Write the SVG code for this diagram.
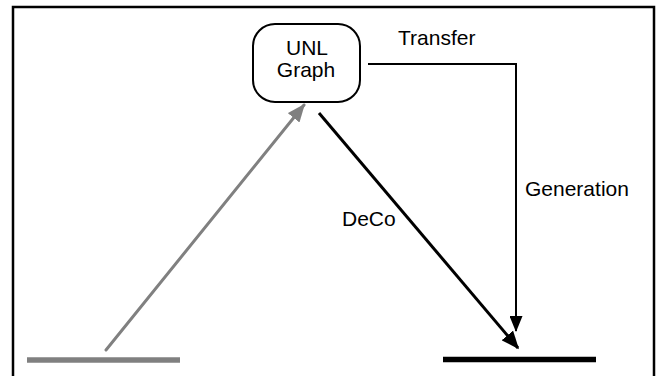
<svg xmlns="http://www.w3.org/2000/svg" width="656" height="376" viewBox="0 0 656 376">
<style>
text{font-family:"Liberation Sans",Arial,sans-serif;font-size:21px;fill:#000}
.blk{stroke:#000;fill:none}
.gry{stroke:#808080;fill:none}
</style>
<defs>
<marker id="ab" markerWidth="6" markerHeight="5" refX="5.5" refY="2.5" orient="auto" markerUnits="strokeWidth" viewBox="0 0 6 5"><path d="M0,0 L6,2.5 L0,5 z" fill="#000"/></marker>
<marker id="ab2" markerWidth="8" markerHeight="6.5" refX="7.5" refY="3.25" orient="auto" markerUnits="strokeWidth" viewBox="0 0 8 6.5"><path d="M0,0 L8,3.25 L0,6.5 z" fill="#000"/></marker>
<marker id="ag" markerWidth="6" markerHeight="5" refX="5.5" refY="2.5" orient="auto" markerUnits="strokeWidth" viewBox="0 0 6 5"><path d="M0,0 L6,2.5 L0,5 z" fill="#808080"/></marker>
</defs>
<path d="M13,376 V7 H654 V376" class="blk" stroke-width="2.5"/>
<g id="base-left"><line x1="27" y1="360" x2="180" y2="360" class="gry" stroke-width="5.5"/></g>
<g id="base-right"><line x1="443" y1="359.5" x2="596" y2="359.5" class="blk" stroke-width="5.5"/></g>
<g id="unl-graph">
<rect x="253" y="24" width="107" height="78" rx="22" ry="22" fill="#fff" stroke="#000" stroke-width="2"/>
<text x="307" y="55" text-anchor="middle">UNL</text>
<text x="306" y="77" text-anchor="middle">Graph</text>
</g>
<g id="connectors">
<line x1="106" y1="350" x2="304" y2="105" class="gry" stroke-width="3" stroke-linecap="round" marker-end="url(#ag)"/>
<line x1="319" y1="113" x2="518" y2="348" class="blk" stroke-width="3" marker-end="url(#ab)"/>
<path d="M368,64 H516 V331" class="blk" stroke-width="2" marker-end="url(#ab2)"/>
<text x="398" y="45">Transfer</text>
<text x="525" y="196">Generation</text>
<text x="342" y="226">DeCo</text>
</g>
</svg>
